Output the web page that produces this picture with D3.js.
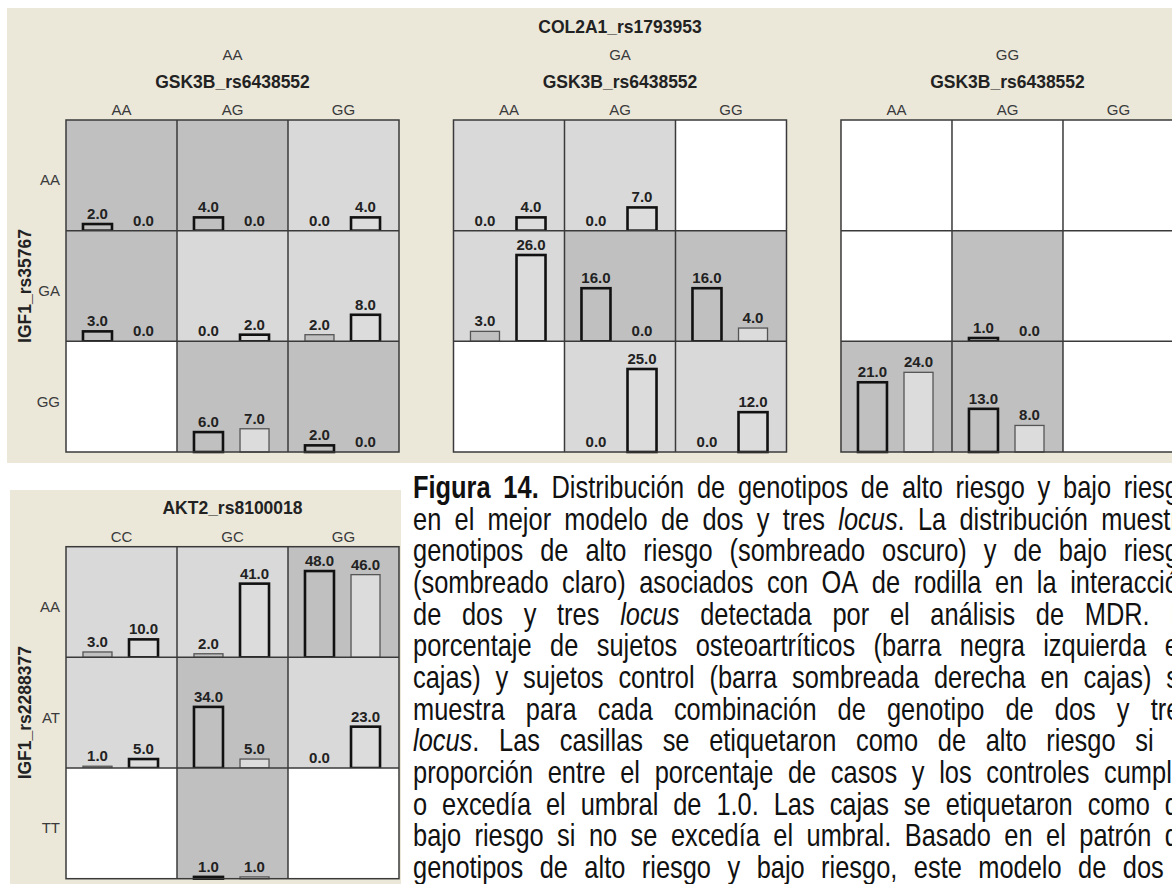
<!DOCTYPE html>
<html>
<head>
<meta charset="utf-8">
<script src="https://cdn.jsdelivr.net/npm/d3@7"></script>
<style>
  html, body { margin: 0; padding: 0; background: #ffffff; }
  svg { display: block; }
</style>
</head>
<body>
<svg id="chart" width="1172" height="884"></svg>
<script>
// ---------------- DATA ----------------
// Three-locus model: COL2A1_rs1793953 (outer) x GSK3B_rs6438552 (columns) x IGF1_rs35767 (rows)
const outerTitleTop = "COL2A1_rs1793953";
const colTitleTop = "GSK3B_rs6438552";
const rowTitleTop = "IGF1_rs35767";
const outerLevelsTop = ["AA", "GA", "GG"];
const colLevelsTop = ["AA", "AG", "GG"];
const rowLevelsTop = ["AA", "GA", "GG"];
// [outer][row][col]; null = empty cell
const casesTop = [
  [[2, 4, 0], [3, 0, 2], [null, 6, 2]],
  [[0, 0, null], [3, 16, 16], [null, 0, 0]],
  [[null, null, null], [null, 1, null], [21, 13, null]]
];
const controlsTop = [
  [[0, 0, 4], [0, 2, 8], [null, 7, 0]],
  [[4, 7, null], [26, 0, 4], [null, 25, 12]],
  [[null, null, null], [null, 0, null], [24, 8, null]]
];
// H = high risk (dark), L = low risk (light), - = empty
const riskTop = [
  ["HHL", "HLL", "-HH"],
  ["LL-", "LHH", "-LL"],
  ["---", "-H-", "HH-"]
];

// Two-locus model: AKT2_rs8100018 (columns) x IGF1_rs2288377 (rows)
const colTitleBottom = "AKT2_rs8100018";
const rowTitleBottom = "IGF1_rs2288377";
const colLevelsBottom = ["CC", "GC", "GG"];
const rowLevelsBottom = ["AA", "AT", "TT"];
const casesBottom = [[3, 2, 48], [1, 34, 0], [null, 1, null]];
const controlsBottom = [[10, 41, 46], [5, 5, 23], [null, 1, null]];
const riskBottom = ["LLH", "LHL", "-H-"];

// Caption lines (* = bold, ~ = italic)
const captionLines = [
  "*Figura* *14.* Distribución de genotipos de alto riesgo y bajo riesgo",
  "en el mejor modelo de dos y tres ~locus~. La distribución muestra",
  "genotipos de alto riesgo (sombreado oscuro) y de bajo riesgo",
  "(sombreado claro) asociados con OA de rodilla en la interacción",
  "de dos y tres ~locus~ detectada por el análisis de MDR. El",
  "porcentaje de sujetos osteoartríticos (barra negra izquierda en",
  "cajas) y sujetos control (barra sombreada derecha en cajas) se",
  "muestra para cada combinación de genotipo de dos y tres",
  "~locus~. Las casillas se etiquetaron como de alto riesgo si la",
  "proporción entre el porcentaje de casos y los controles cumplía",
  "o excedía el umbral de 1.0. Las cajas se etiquetaron como de",
  "bajo riesgo si no se excedía el umbral. Basado en el patrón de",
  "genotipos de alto riesgo y bajo riesgo, este modelo de dos y"
];

// ---------------- STYLE ----------------
const C = {
  panelBg: "#ebe8da",
  dark: "#c0c0c0",
  light: "#d9d9d9",
  empty: "#ffffff",
  caseFill: "#c0c0c0",
  ctrlFill: "#dcdcdc",
  grid: "#3a3a3a",
  text: "#222222",
  axisText: "#3a3a3a"
};
const FONT = "'Liberation Sans', Arial, Helvetica, sans-serif";

const svg = d3.select("#chart");
svg.append("rect").attr("width", 1172).attr("height", 884).attr("fill", "#fff");

// ---------------- GRID DRAWING ----------------
function drawGrid(g, opts) {
  const { cols, rows, cases, controls, risk, W, H, yMax } = opts;
  const x = d3.scaleBand().domain(cols).range([0, W]);
  const y = d3.scaleBand().domain(rows).range([0, H]);
  const cw = x.bandwidth(), ch = y.bandwidth();
  const inner = d3.scaleBand().domain(["case", "control"])
    .range([cw * 0.153, cw * 0.829]).paddingInner(0.37);
  const hScale = d3.scaleLinear().domain([0, yMax]).range([0, ch]);

  const cells = [];
  rows.forEach((r, ri) => cols.forEach((c, ci) => {
    cells.push({ r, c, ri, ci, risk: risk[ri][ci],
      vals: [cases[ri][ci], controls[ri][ci]] });
  }));

  const cg = g.selectAll("g.cell").data(cells).join("g")
    .attr("class", "cell")
    .attr("transform", d => `translate(${x(d.c)},${y(d.r)})`);

  cg.append("rect")
    .attr("width", cw).attr("height", ch)
    .attr("fill", d => d.risk === "H" ? C.dark : d.risk === "L" ? C.light : C.empty);

  cg.filter(d => d.risk !== "-").each(function (d) {
    const sel = d3.select(this);
    const items = [
      { k: "case", v: d.vals[0], fill: C.caseFill, strong: d.risk === "H" },
      { k: "control", v: d.vals[1], fill: C.ctrlFill, strong: d.risk === "L" }
    ];
    items.forEach(it => {
      const h = hScale(it.v);
      if (it.v > 0) {
        sel.append("rect")
          .attr("x", inner(it.k)).attr("width", inner.bandwidth())
          .attr("y", ch - h).attr("height", h)
          .attr("fill", it.fill)
          .attr("stroke", it.strong ? "#111" : "#555")
          .attr("stroke-width", it.strong ? 2.6 : 1.3);
      }
      sel.append("text")
        .attr("x", inner(it.k) + inner.bandwidth() / 2)
        .attr("y", ch - h - 5)
        .attr("text-anchor", "middle")
        .attr("font-family", FONT).attr("font-size", 15).attr("font-weight", "bold")
        .attr("fill", C.text)
        .text(d3.format(".1f")(it.v));
    });
  });

  // grid lines
  g.append("rect").attr("width", W).attr("height", H)
    .attr("fill", "none").attr("stroke", C.grid).attr("stroke-width", 1.5);
  cols.slice(1).forEach(c => g.append("line")
    .attr("x1", x(c)).attr("x2", x(c)).attr("y1", 0).attr("y2", H)
    .attr("stroke", C.grid).attr("stroke-width", 1.5));
  rows.slice(1).forEach(r => g.append("line")
    .attr("y1", y(r)).attr("y2", y(r)).attr("x1", 0).attr("x2", W)
    .attr("stroke", C.grid).attr("stroke-width", 1.5));

  // column labels
  g.selectAll("text.colLab").data(cols).join("text").attr("class", "colLab")
    .attr("x", d => x(d) + cw / 2).attr("y", -5)
    .attr("text-anchor", "middle")
    .attr("font-family", FONT).attr("font-size", 15).attr("fill", C.axisText)
    .text(d => d);
  // row labels
  if (opts.rowLabels) {
    g.selectAll("text.rowLab").data(rows).join("text").attr("class", "rowLab")
      .attr("x", -6).attr("y", d => y(d) + ch / 2 + 10)
      .attr("text-anchor", "end")
      .attr("font-family", FONT).attr("font-size", 15).attr("fill", C.axisText)
      .text(d => d);
  }
  return { x, y };
}

// ---------------- TOP PANEL ----------------
svg.append("rect").attr("x", 7).attr("y", 8).attr("width", 1172).attr("height", 455)
  .attr("fill", C.panelBg);

const gridW = 333, gridH = 332;
const topY = 120;
const maxTop = d3.max([casesTop, controlsTop].flat(3).filter(v => v != null));
const outerX = d3.scaleBand().domain(outerLevelsTop).range([66, 1174]).paddingInner(0.1406);

svg.append("text")
  .attr("x", outerX(outerLevelsTop[1]) + outerX.bandwidth() / 2).attr("y", 33)
  .attr("text-anchor", "middle")
  .attr("font-family", FONT).attr("font-size", 17.5).attr("font-weight", "bold")
  .attr("fill", C.text).text(outerTitleTop);

outerLevelsTop.forEach((lev, oi) => {
  const gx = outerX(lev);
  svg.append("text").attr("x", gx + gridW / 2).attr("y", 60)
    .attr("text-anchor", "middle")
    .attr("font-family", FONT).attr("font-size", 15).attr("fill", C.axisText)
    .text(lev);
  svg.append("text").attr("x", gx + gridW / 2).attr("y", 88)
    .attr("text-anchor", "middle")
    .attr("font-family", FONT).attr("font-size", 17.5).attr("font-weight", "bold")
    .attr("fill", C.text).text(colTitleTop);
  const g = svg.append("g").attr("transform", `translate(${gx},${topY})`);
  drawGrid(g, {
    cols: colLevelsTop, rows: rowLevelsTop,
    cases: casesTop[oi], controls: controlsTop[oi],
    risk: riskTop[oi].map(s => s.split("")),
    W: gridW, H: gridH, yMax: maxTop / 0.78,
    rowLabels: oi === 0
  });
});

svg.append("text")
  .attr("transform", `translate(31,${topY + gridH / 2}) rotate(-90)`)
  .attr("text-anchor", "middle")
  .attr("font-family", FONT).attr("font-size", 17.5).attr("font-weight", "bold")
  .attr("fill", C.text).text(rowTitleTop);

// ---------------- BOTTOM PANEL ----------------
svg.append("rect").attr("x", 10).attr("y", 490).attr("width", 391).attr("height", 394)
  .attr("fill", C.panelBg);
const botY = 546.7;
const maxBottom = d3.max([casesBottom, controlsBottom].flat(2).filter(v => v != null));
svg.append("text").attr("x", 66 + gridW / 2).attr("y", 514)
  .attr("text-anchor", "middle")
  .attr("font-family", FONT).attr("font-size", 17.5).attr("font-weight", "bold")
  .attr("fill", C.text).text(colTitleBottom);
const gb = svg.append("g").attr("transform", `translate(66,${botY})`);
drawGrid(gb, {
  cols: colLevelsBottom, rows: rowLevelsBottom,
  cases: casesBottom, controls: controlsBottom,
  risk: riskBottom.map(s => s.split("")),
  W: gridW, H: gridH, yMax: maxBottom / 0.78,
  rowLabels: true
});
svg.append("text")
  .attr("transform", `translate(31,${botY + gridH / 2}) rotate(-90)`)
  .attr("text-anchor", "middle")
  .attr("font-family", FONT).attr("font-size", 17.5).attr("font-weight", "bold")
  .attr("fill", C.text).text(rowTitleBottom);

// ---------------- CAPTION (justified, narrow face emulated) ----------------
const capX = 413, capW = 780, capY0 = 498, capDY = 31.67, capSX = 0.82, capFS = 31;
const capG = svg.append("g");
function parseWord(w) {
  const segs = []; let bold = false, it = false, cur = "";
  for (const chr of w) {
    if (chr === "*" || chr === "~") {
      if (cur) segs.push({ t: cur, bold, it });
      cur = "";
      if (chr === "*") bold = !bold; else it = !it;
    } else cur += chr;
  }
  if (cur) segs.push({ t: cur, bold, it });
  return segs;
}
captionLines.forEach((line, li) => {
  const lg = capG.append("g")
    .attr("transform", `translate(${capX},${capY0 + li * capDY}) scale(${capSX},1)`);
  const words = line.split(" ");
  const nodes = words.map(w => {
    const t = lg.append("text")
      .attr("y", 0)
      .attr("font-family", FONT).attr("font-size", capFS)
      .attr("fill", "#111");
    parseWord(w).forEach(s => t.append("tspan")
      .attr("font-weight", s.bold ? "bold" : "normal")
      .attr("font-style", s.it ? "italic" : "normal")
      .text(s.t));
    return t;
  });
  const widths = nodes.map(n => n.node().getComputedTextLength());
  const gap = (capW / capSX - d3.sum(widths)) / (words.length - 1);
  let cx = 0;
  nodes.forEach((n, i) => { n.attr("x", cx); cx += widths[i] + gap; });
});
</script>
</body>
</html>
